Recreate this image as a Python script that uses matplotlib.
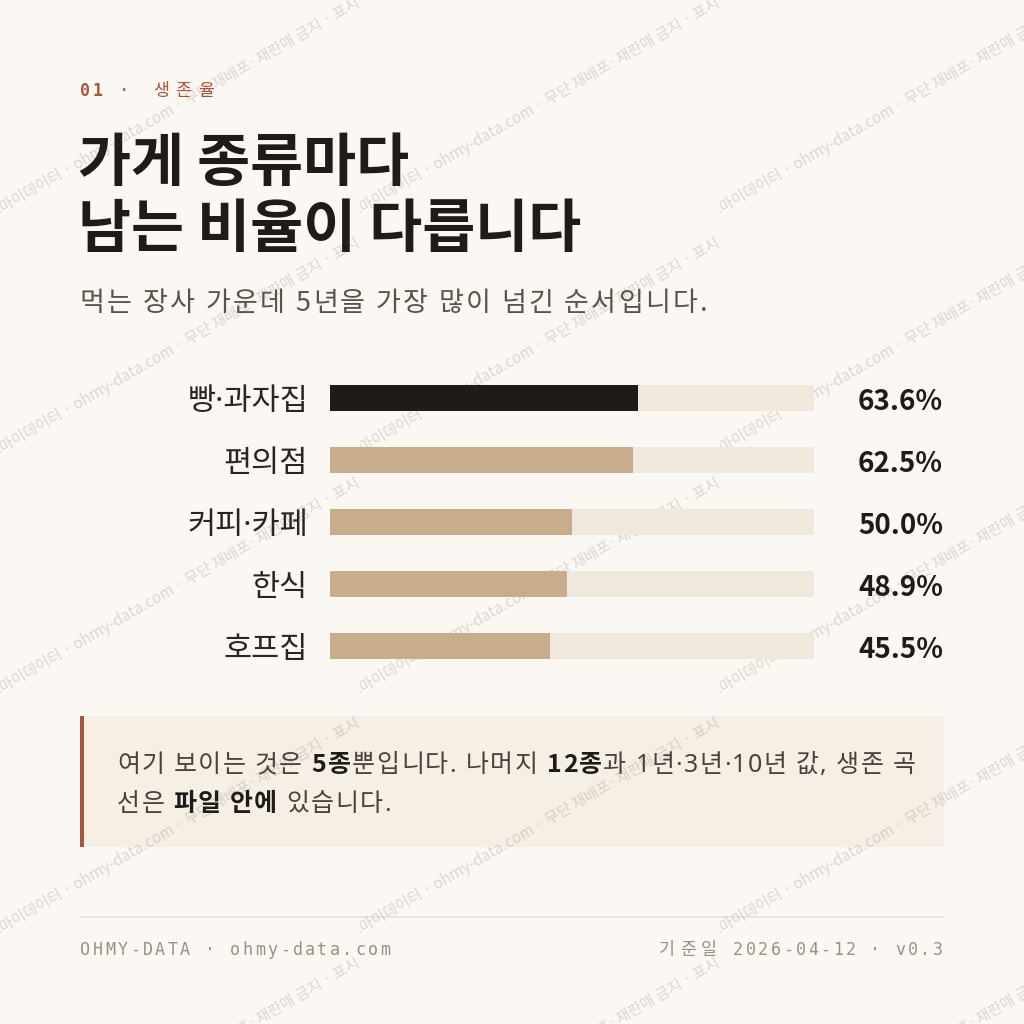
import numpy as np
import matplotlib
matplotlib.use("Agg")
import matplotlib.pyplot as plt
from matplotlib.patches import Rectangle
from matplotlib.transforms import Bbox, TransformedBbox, offset_copy

# ---- data ----
categories = ["빵·과자집", "편의점", "커피·카페", "한식", "호프집"]
survival_5y = [63.6, 62.5, 50.0, 48.9, 45.5]
highlight = "빵·과자집"

kicker_num = "01"
kicker_txt = "· 생존율"
title_lines = ["가게 종류마다", "남는 비율이 다릅니다"]
subtitle = "먹는 장사 가운데 5년을 가장 많이 넘긴 순서입니다."
note_line1 = [("여기 보이는 것은 ", False), ("5종", True), ("뿐입니다. 나머지 ", False),
              ("12종", True), ("과 1년·3년·10년 값, 생존 곡", False)]
note_line2 = [("선은 ", False), ("파일 안에", True), (" 있습니다.", False)]
footer_left = "OHMY-DATA · ohmy-data.com"
footer_date_lbl = "기준일"
footer_right = "2026-04-12 · v0.3"
watermark = "오마이데이터 · ohmy-data.com · 무단 재배포·재판매 금지 · 표시"

# ---- colours ----
BG = "#fbf8f3"
INK = "#1f1b18"
SUB = "#5b534b"
RUST = "#a9553a"
TAN = "#c8ad8c"
TRACK = "#f0e8dc"
BOX = "#f6efe6"
FOOT = "#9b9083"
KR = "Noto Sans CJK KR"
MONO = ["DejaVu Sans Mono", KR]
NARROW_DOT = ["Noto Sans", KR]   # latin/middle dot from Noto Sans, hangul from CJK

plt.rcParams['font.family'] = [KR, 'DejaVu Sans']

fig = plt.figure(figsize=(10.24, 10.24), dpi=100, facecolor=BG)
ax = fig.add_axes([0, 0, 1, 1])
ax.set_xlim(0, 1024); ax.set_ylim(1024, 0); ax.axis("off")
R = fig.canvas.get_renderer()


def width(s, **kw):
    t = ax.text(0, 0, s, **kw)
    w = t.get_window_extent(R).width
    t.remove()
    return w


def tracked(x, y, s, track, align="left", **kw):
    # lay out characters one by one with extra letter spacing
    pos = []
    for i, c in enumerate(s):
        if c == " ":
            continue
        off = width(s[:i + 1], **kw) - width(c, **kw)
        pos.append((off + i * track, c))
    total = pos[-1][0] + width(pos[-1][1], **kw)
    if align == "right":
        x = x - total
    for off, c in pos:
        ax.text(x + off, y, c, va="baseline", ha="left", **kw)
    return x + total if align == "left" else x


def runs(x, y, parts, size, track, color, bold_color):
    sp = width("가 가", fontsize=size, family=NARROW_DOT) - width("가가", fontsize=size, family=NARROW_DOT) + track
    for s, b in parts:
        if b:
            kw = dict(fontsize=size, color=bold_color, fontweight="bold", family=KR)
        else:
            kw = dict(fontsize=size, color=color, fontweight="normal", family=NARROW_DOT)
        if s.startswith(" "):
            x += sp
        x = tracked(x, y, s.strip(), track, **kw) + track
        if s.endswith(" "):
            x += sp


# ---- header ----
tracked(80, 96, kicker_num, 2, fontsize=12, color=RUST, family=MONO, fontweight="bold")
tracked(119, 96, kicker_txt, 6.5, fontsize=12.5, color=RUST, family=MONO)
ax.text(78, 181, title_lines[0], fontsize=41.5, fontweight="bold", color=INK, va="baseline")
ax.text(78, 247, title_lines[1], fontsize=41.5, fontweight="bold", color=INK, va="baseline")
tracked(80, 311, subtitle, 2.3, fontsize=19.5, color=SUB)

# ---- bars ----
bx = fig.add_axes([330 / 1024, 1 - 677 / 1024, 484 / 1024, 310 / 1024])
bx.set_xlim(0, 100); bx.set_ylim(len(categories) - 0.5, -0.5); bx.axis("off")
ypos = np.arange(len(categories))
bx.barh(ypos, [100] * len(categories), height=0.42, color=TRACK, lw=0)
colors = [INK if c == highlight else TAN for c in categories]
bx.barh(ypos, survival_5y, height=0.42, color=colors, lw=0)
tr = bx.get_yaxis_transform()
tr_lab = offset_copy(tr, fig, y=-12, units="dots")
tr_val = offset_copy(tr, fig, y=-12.5, units="dots")
for i, (c, v) in enumerate(zip(categories, survival_5y)):
    bx.text(-22 / 484, i, c, transform=tr_lab, ha="right", va="baseline",
            fontsize=22, color="#2a2521", family=NARROW_DOT)
    bx.text(613 / 484, i, f"{v:.1f}%", transform=tr_val, ha="right", va="baseline",
            fontsize=20, fontweight="bold", color=INK)

# ---- note box ----
ax.add_patch(Rectangle((80, 716), 864, 131, facecolor=BOX, lw=0))
ax.add_patch(Rectangle((80, 716), 3.5, 131, facecolor=RUST, lw=0))
runs(117, 772, note_line1, 18, 1.4, "#4a433c", INK)
runs(117, 811, note_line2, 18, 1.4, "#4a433c", INK)

# ---- footer ----
ax.plot([80, 944], [917, 917], color="#e8e2d8", lw=1.2)
tracked(80, 955, footer_left, 2.5, fontsize=12, color=FOOT, family=MONO)
xs = tracked(943, 955, footer_right, 2.5, align="right", fontsize=12, color=FOOT, family=MONO)
tracked(xs - 16, 955, footer_date_lbl, 5, align="right", fontsize=12.5, color=FOOT, family=MONO)

# ---- watermark tiles ----
for j in range(5):
    for k in range(3):
        x0, y0 = 360 * k, 240 * j
        t = ax.text(x0 - 9, y0 + 220, watermark, rotation=30, rotation_mode="anchor",
                    ha="left", va="baseline", fontsize=11, color="#55504a", alpha=0.2)
        t.set_clip_box(TransformedBbox(Bbox.from_bounds(x0, y0 - 12, 360, 240), ax.transData))
        t.set_clip_on(True)

fig.savefig("out.png", dpi=100, facecolor=BG)
